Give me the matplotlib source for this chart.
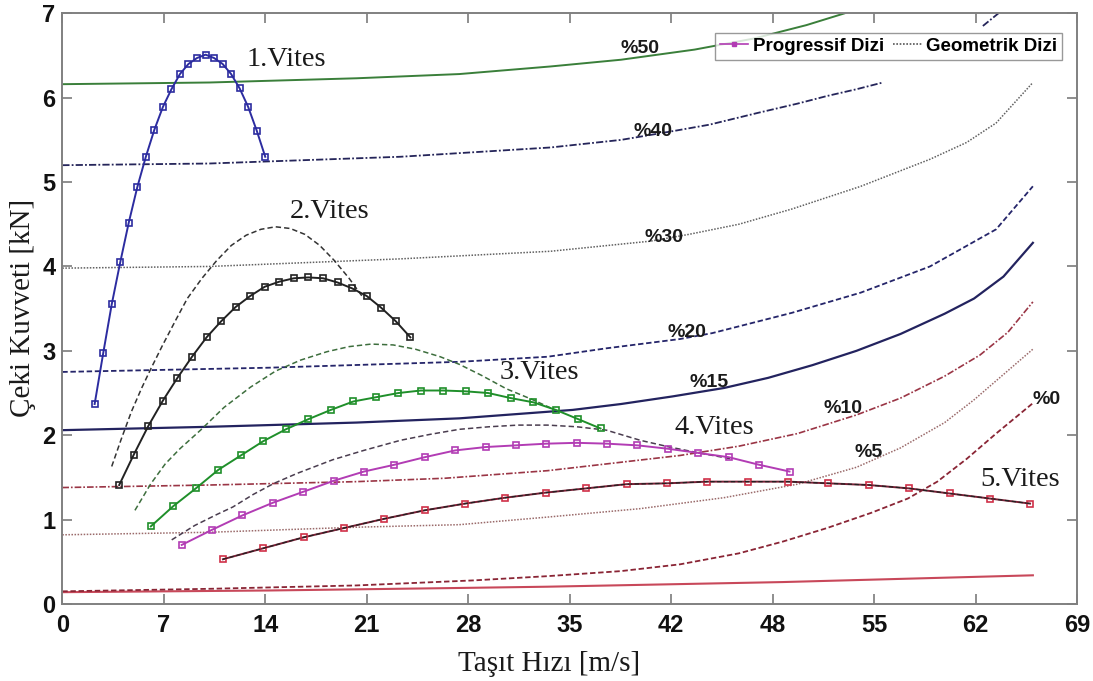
import numpy as np
import matplotlib
matplotlib.use("Agg")
import matplotlib.pyplot as plt
from matplotlib.lines import Line2D

# ---------------- data ----------------
x_tick_labels = ['0', '7', '14', '21', '28', '35', '42', '48', '55', '62', '69']
y_tick_labels = ['0', '1', '2', '3', '4', '5', '6', '7']

# Progressive gear series (solid with square markers)
g1_x = [2.2, 2.78, 3.36, 3.94, 4.52, 5.1, 5.68, 6.26, 6.84, 7.42, 8.0, 8.58, 9.16, 9.74,
        10.32, 10.9, 11.48, 12.06, 12.64, 13.22, 13.8]
g1_y = [2.37, 2.97, 3.55, 4.05, 4.52, 4.94, 5.30, 5.62, 5.89, 6.10, 6.28, 6.40, 6.47, 6.51,
        6.47, 6.40, 6.28, 6.11, 5.89, 5.61, 5.30]

g2_x = [3.87, 4.86, 5.85, 6.84, 7.83, 8.82, 9.81, 10.8, 11.79, 12.78, 13.77, 14.76, 15.75,
        16.74, 17.73, 18.72, 19.71, 20.7, 21.69, 22.68, 23.67]
g2_y = [1.41, 1.77, 2.11, 2.41, 2.68, 2.93, 3.16, 3.35, 3.52, 3.65, 3.76, 3.82, 3.86, 3.87,
        3.86, 3.81, 3.74, 3.65, 3.51, 3.35, 3.16]

g3_x = [6.02, 7.55, 9.08, 10.61, 12.14, 13.67, 15.2, 16.73, 18.26, 19.79, 21.32, 22.85,
        24.38, 25.91, 27.44, 28.97, 30.5, 32.03, 33.56, 35.09, 36.6]
g3_y = [0.92, 1.16, 1.37, 1.59, 1.76, 1.93, 2.07, 2.19, 2.30, 2.40, 2.45, 2.50, 2.53, 2.53,
        2.52, 2.50, 2.44, 2.39, 2.30, 2.19, 2.08]

g4_x = [8.12, 10.19, 12.25, 14.32, 16.39, 18.45, 20.52, 22.58, 24.65, 26.72, 28.78, 30.85,
        32.92, 34.98, 37.05, 39.11, 41.18, 43.25, 45.31, 47.38, 49.45]
g4_y = [0.70, 0.88, 1.05, 1.20, 1.33, 1.46, 1.57, 1.65, 1.74, 1.82, 1.86, 1.88, 1.90, 1.91,
        1.90, 1.88, 1.84, 1.79, 1.74, 1.65, 1.57]

g5_x = [10.92, 13.66, 16.41, 19.15, 21.9, 24.64, 27.39, 30.13, 32.88, 35.62, 38.37, 41.11,
        43.86, 46.6, 49.35, 52.09, 54.84, 57.58, 60.33, 63.07, 65.81]
g5_y = [0.53, 0.66, 0.79, 0.90, 1.01, 1.11, 1.19, 1.26, 1.32, 1.37, 1.42, 1.43, 1.45, 1.45,
        1.45, 1.43, 1.41, 1.37, 1.31, 1.25, 1.19]

# Geometric gear series (dashed)
geo2_x = [3.36, 4.0, 4.7, 5.4, 6.0, 6.8, 7.7, 8.5, 9.5, 10.5, 11.5, 12.5, 13.5, 14.5,
          15.5, 16.5, 17.5, 18.5, 19.5, 20.5]
geo2_y = [1.63, 1.95, 2.28, 2.56, 2.78, 3.06, 3.36, 3.62, 3.86, 4.07, 4.25, 4.37, 4.44, 4.47,
          4.45, 4.38, 4.25, 4.07, 3.86, 3.62]

geo3_x = [4.94, 6.0, 7.0, 8.0, 9.4, 11.0, 12.8, 14.5, 16.2, 18.0, 19.5, 21.0, 22.5, 24.0,
          25.7, 27.0, 28.5, 30.2, 32.0, 33.5]
geo3_y = [1.11, 1.42, 1.66, 1.84, 2.06, 2.33, 2.57, 2.76, 2.89, 2.99, 3.05, 3.08, 3.07, 3.02,
          2.93, 2.84, 2.71, 2.55, 2.42, 2.30]

geo4_x = [7.44, 9.0, 10.5, 11.6, 13.0, 14.4, 16.0, 18.4, 20.5, 23.0, 25.0, 27.0, 29.0, 31.0,
          33.0, 35.0, 37.0, 39.3, 41.3, 43.3, 45.5]
geo4_y = [0.76, 0.93, 1.06, 1.15, 1.30, 1.43, 1.55, 1.71, 1.82, 1.94, 2.01, 2.07, 2.10, 2.12,
          2.12, 2.10, 2.06, 1.94, 1.86, 1.79, 1.72]

# Road-load (grade resistance) curves
r50_x = [0, 10, 20, 27, 33.2, 38, 43, 47, 50.6, 53.2, 55]
r50_y = [6.16, 6.18, 6.23, 6.28, 6.37, 6.45, 6.57, 6.70, 6.86, 7.0, 7.12]

r40_x = [0, 10, 23, 33.2, 38, 41.4, 44, 47.3, 50, 52, 54, 55.8, 58, 62.6, 63.8]
r40_y = [5.20, 5.22, 5.30, 5.41, 5.50, 5.60, 5.68, 5.82, 5.93, 6.02, 6.10, 6.18, np.nan, 6.85, 7.02]

r30_x = [0, 10, 23, 33.2, 40, 42.6, 46, 49.6, 54.3, 59, 61.5, 63.5, 66]
r30_y = [3.98, 4.00, 4.09, 4.18, 4.30, 4.38, 4.50, 4.68, 4.95, 5.27, 5.47, 5.70, 6.18]

r20_x = [0, 14, 27, 33, 37, 42, 44.2, 49.6, 54.3, 59, 63.5, 66]
r20_y = [2.75, 2.80, 2.87, 2.93, 3.03, 3.14, 3.21, 3.45, 3.69, 4.00, 4.44, 4.95]

r15_x = [0, 10, 20, 27, 34.7, 38, 41.5, 45, 48, 51, 54, 57, 60, 62, 64, 66]
r15_y = [2.06, 2.10, 2.15, 2.20, 2.30, 2.37, 2.46, 2.56, 2.68, 2.83, 3.00, 3.20, 3.44, 3.62, 3.88, 4.28]

r10_x = [0, 10, 20, 26, 33, 37, 42, 46, 50, 54, 57, 60, 62.4, 64.3, 66]
r10_y = [1.38, 1.41, 1.45, 1.49, 1.58, 1.66, 1.76, 1.87, 2.02, 2.24, 2.44, 2.70, 2.95, 3.22, 3.58]

r5_x = [0, 10, 20, 27, 33, 39.3, 45, 50, 54, 57, 60, 62, 64, 66]
r5_y = [0.82, 0.85, 0.91, 0.94, 1.03, 1.13, 1.26, 1.42, 1.62, 1.85, 2.15, 2.42, 2.72, 3.02]

r0_x = [0, 10, 20, 28, 33, 38, 42, 46, 49, 52, 55, 57.5, 59.5, 61.5, 63.5, 66]
r0_y = [0.15, 0.18, 0.22, 0.28, 0.33, 0.39, 0.47, 0.60, 0.74, 0.90, 1.08, 1.25, 1.45, 1.72, 2.02, 2.38]

roll_x = [0, 14, 27, 33, 49, 66]
roll_y = [0.14, 0.16, 0.19, 0.205, 0.26, 0.34]

grade_labels = ['%50', '%40', '%30', '%20', '%15', '%10', '%5', '%0']
grade_label_x = [39.3, 40.2, 40.9, 42.5, 44.0, 53.1, 54.8, 66.9]
grade_label_y = [6.58, 5.60, 4.34, 3.22, 2.62, 2.32, 1.80, 2.42]

gear_labels = ['1.Vites', '2.Vites', '3.Vites', '4.Vites', '5.Vites']
gear_label_x = [12.5, 15.5, 29.75, 41.65, 62.4]
gear_label_y = [6.45, 4.65, 2.74, 2.09, 1.48]

legend_labels = ['Progressif Dizi', 'Geometrik Dizi']

# ---------------- figure ----------------
W, H = 1093, 681
fig = plt.figure(figsize=(W / 100, H / 100), dpi=100)
fig.patch.set_facecolor('white')
ax = fig.add_axes([62.3 / W, 1 - 604 / H, (1077 - 62.3) / W, (604 - 13.3) / H])

sans = ['Liberation Sans', 'DejaVu Sans']
serif = ['Liberation Serif', 'DejaVu Serif']

# road-load curves
ax.plot(roll_x, roll_y, color='#c8485a', lw=1.5, zorder=2)
ax.plot(r0_x, r0_y, color='#8a2535', lw=1.3, ls=(0, (3, 1.5)), zorder=2)
ax.plot(r5_x, r5_y, color='#9a6a6a', lw=1.1, ls=(0, (1, 1)), zorder=2)
ax.plot(r10_x, r10_y, color='#9a3545', lw=1.2, ls=(0, (4, 1.2, 1, 1.2)), zorder=2)
ax.plot(r15_x, r15_y, color='#23235f', lw=1.6, zorder=2)
ax.plot(r20_x, r20_y, color='#25256a', lw=1.3, ls=(0, (3, 1.5)), zorder=2)
ax.plot(r30_x, r30_y, color='#606060', lw=1.1, ls=(0, (1, 1)), zorder=2)
ax.plot(r40_x, r40_y, color='#25255a', lw=1.3, ls=(0, (4, 1.2, 1, 1.2)), zorder=2)
ax.plot(r50_x, r50_y, color='#3a7f3a', lw=1.4, zorder=2)

# geometric (dashed)
dash = (0, (3.5, 2))
ax.plot(geo2_x, geo2_y, color='#333333', lw=1.1, ls=dash, zorder=3)
ax.plot(geo3_x, geo3_y, color='#3d6e3d', lw=1.1, ls=dash, zorder=3)
ax.plot(geo4_x, geo4_y, color='#4a3d4f', lw=1.1, ls=dash, zorder=3)

# progressive (solid + square markers)
mk = dict(marker='s', markersize=5, markerfacecolor='none', markeredgewidth=1.2, lw=1.4, zorder=4)
ax.plot(g1_x, g1_y, color='#2c2ca0', **mk)
ax.plot(g2_x, g2_y, color='#222222', **mk)
ax.plot(g3_x, g3_y, color='#1f8f2a', **mk)
ax.plot(g4_x, g4_y, color='#b23cb4', **mk)
ax.plot(g5_x, g5_y, color='#7a1f35', lw=1.4, zorder=4)
ax.plot(g5_x, g5_y, color='#d03048', marker='s', markersize=5, markerfacecolor='none',
        markeredgewidth=1.2, lw=0, zorder=5)
ax.plot(g5_x, g5_y, color='#222222', lw=0.9, ls=dash, zorder=5)

# labels on chart
for s, x, y in zip(grade_labels, grade_label_x, grade_label_y):
    ax.text(x, y, s, ha='center', va='center', fontsize=14, fontweight='bold',
            family=sans, color='#1a1a1a', zorder=6)
for s, x, y in zip(gear_labels, gear_label_x, gear_label_y):
    ax.text(x, y, s, ha='left', va='center', fontsize=20.5, family=serif,
            color='#1a1a1a', zorder=6)

# axes
ax.set_xlim(0, 69)
ax.set_ylim(0, 7)
ax.set_xticks(np.linspace(0, 69, len(x_tick_labels)))
ax.set_xticklabels(x_tick_labels)
ax.set_yticks(np.arange(len(y_tick_labels)))
ax.set_yticklabels(y_tick_labels)
ax.tick_params(direction='in', length=7, width=1.1, color='#707070', top=True, right=True,
               labelsize=17)
ax.tick_params(axis='x', pad=7)
ax.tick_params(axis='y', pad=5)
for lab in ax.get_xticklabels() + ax.get_yticklabels():
    lab.set_fontweight('bold')
    lab.set_family(sans)
    lab.set_color('#111111')
for sp in ax.spines.values():
    sp.set_color('#808080')
    sp.set_linewidth(1.4)

fig.text(549 / W, 1 - 671 / H, 'Taşıt Hızı [m/s]', ha='center', va='baseline',
         fontsize=21, family=serif, color='#1a1a1a')
fig.text(23 / W, 1 - 308 / H, 'Çeki Kuvveti [kN]', ha='center', va='center',
         rotation=90, fontsize=21, family=serif, color='#1a1a1a')

# legend
handles = [
    Line2D([], [], color='#b23cb4', lw=1.2, marker='s', markersize=3.5,
           markerfacecolor='#b23cb4'),
    Line2D([], [], color='#555555', lw=1.2, ls=(0, (1, 1))),
]
leg = ax.legend(handles, legend_labels, loc='upper right',
                bbox_to_anchor=(1062 / W, 1 - 33 / H), bbox_transform=fig.transFigure,
                borderaxespad=0, ncol=2, frameon=True, fancybox=False,
                prop={'family': sans, 'weight': 'bold', 'size': 13.5},
                handlelength=1.5, handletextpad=0.25, columnspacing=0.5,
                borderpad=0.25)
leg.get_frame().set_edgecolor('#808080')
leg.get_frame().set_linewidth(1.0)
leg.set_zorder(10)

fig.savefig('out.png', dpi=100)
